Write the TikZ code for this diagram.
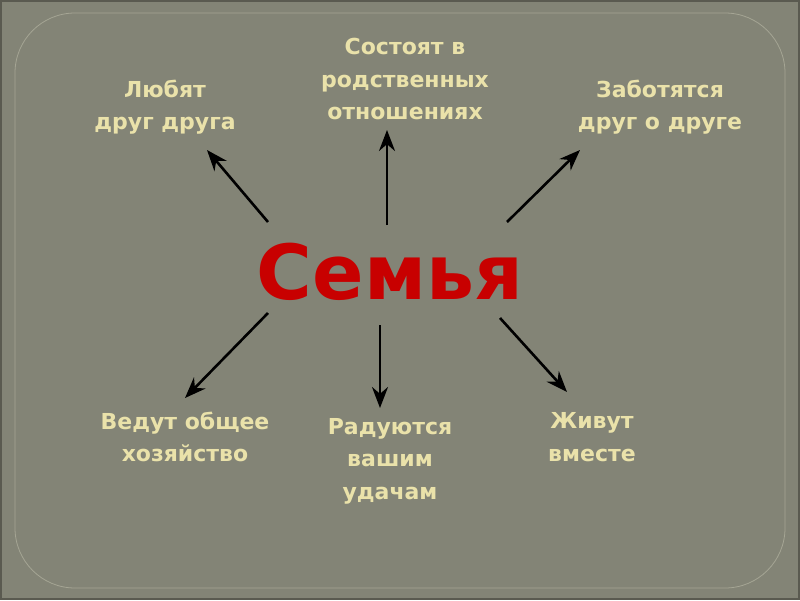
\documentclass[tikz,border=0pt]{standalone}
\usepackage{fontspec}
\setmainfont{DejaVu Sans}
\usetikzlibrary{arrows.meta}
\definecolor{fon}{RGB}{131,132,118}
\definecolor{ramka}{RGB}{165,165,148}
\definecolor{kraj}{RGB}{90,90,80}
\definecolor{krem}{RGB}{234,226,170}
\definecolor{krasn}{RGB}{200,0,0}
\tikzset{%
	tekst/.style  = {text=krem, align=center,
		font=\fontsize{22}{32.5}\selectfont\bfseries}, % Labels
	glavn/.style  = {text=krasn, font=\fontsize{76}{80}\selectfont\bfseries}, % Centre word
	strelka/.style = {line width=2.6pt, -{Stealth[length=21pt,width=16pt]}} % Arrow
}

\begin{document}
\begin{tikzpicture}[x=1pt,y=-1pt]
			\useasboundingbox (0,0) rectangle (800,600);
			\fill[fon] (0,0) rectangle (800,600);
			\draw[kraj,line width=2pt] (1,1) rectangle (799,599);
			\draw[ramka,line width=0.8pt,rounded corners=60pt] (15,13) rectangle (785,588);

			\node[glavn] (semya)       at (390,272) {Семья};
			\node[tekst] (lyubyat)     at (165,107) {Любят\\друг друга};
			\node[tekst] (sostoyat)    at (405,79)  {Состоят в\\родственных\\отношениях};
			\node[tekst] (zabota)      at (660,107) {Заботятся\\друг о друге};
			\node[tekst] (vedut)       at (185,437) {Ведут общее\\хозяйство};
			\node[tekst] (raduyutsya)  at (390,461) {Радуются\\вашим\\удачам};
			\node[tekst] (zhivut)      at (592,437) {Живут\\вместе};

			% arrow ends
			\coordinate (s1) at (268,222); \coordinate (e1) at (207,150);
			\coordinate (s2) at (387,225); \coordinate (e2) at (387,130);
			\coordinate (s3) at (507,222); \coordinate (e3) at (580,150);
			\coordinate (s4) at (268,313); \coordinate (e4) at (185,398);
			\coordinate (s5) at (380,325); \coordinate (e5) at (380,408);
			\coordinate (s6) at (500,318); \coordinate (e6) at (567,392);

			\draw[strelka] (s1) -- (e1);
			\draw[strelka] (s2) -- (e2);
			\draw[strelka] (s3) -- (e3);
			\draw[strelka] (s4) -- (e4);
			\draw[strelka] (s5) -- (e5);
			\draw[strelka] (s6) -- (e6);
		\end{tikzpicture}
\end{document}
